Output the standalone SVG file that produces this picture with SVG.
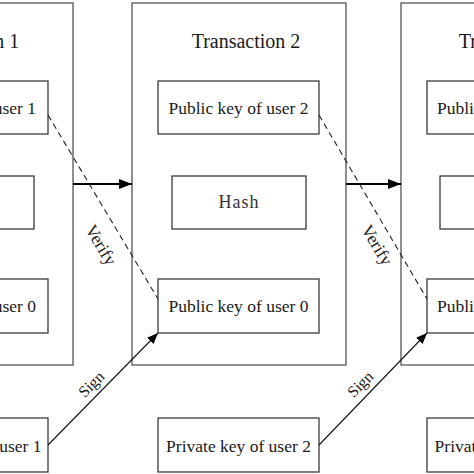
<svg xmlns="http://www.w3.org/2000/svg" width="474" height="474" viewBox="0 0 474 474">
<style>
.box{fill:#fff;stroke:#3a3a3a;stroke-width:1.3}
.outer{fill:#fff;stroke:#555;stroke-width:1.3}
.t{font-family:"Liberation Serif","Times New Roman",serif;font-size:17.5px;fill:#1a1a1a;text-anchor:middle}
.title{font-family:"Liberation Serif","Times New Roman",serif;font-size:20px;fill:#1a1a1a;text-anchor:middle}
.hash{font-family:"Liberation Serif","Times New Roman",serif;font-size:18px;fill:#333;text-anchor:middle;letter-spacing:1px}
.lab{font-family:"Liberation Serif","Times New Roman",serif;font-size:16px;fill:#1a1a1a;text-anchor:middle}
.dash{stroke:#222;stroke-width:1.1;stroke-dasharray:6,4;fill:none}
.thick{stroke:#000;stroke-width:2.2;fill:none}
.thin{stroke:#111;stroke-width:1.1;fill:none}
</style>
<defs>
<marker id="big" markerUnits="userSpaceOnUse" markerWidth="13" markerHeight="10" refX="13" refY="5" orient="auto"><path d="M0,0 L13,5 L0,10 Z" fill="#000"/></marker>
<marker id="small" markerUnits="userSpaceOnUse" markerWidth="11" markerHeight="9" refX="11" refY="4.5" orient="auto"><path d="M0,0 L11,4.5 L0,9 Z" fill="#000"/></marker>
</defs>
<rect width="474" height="474" fill="#fff"/>
<g id="tx1">
<rect class="outer" x="-141" y="3" width="214" height="362"/>
<text class="title" x="-35" y="48">Transaction 1</text>
<rect class="box" x="-113" y="81" width="161" height="53"/>
<text class="t" x="-34" y="114">Public key of user 1</text>
<rect class="box" x="-100" y="176" width="134" height="53"/>
<rect class="box" x="-113" y="279" width="161" height="54"/>
<text class="t" x="-34" y="312">Public key of user 0</text>
</g>
<g id="priv1">
<rect class="box" x="-113" y="418" width="161" height="54"/>
<text class="t" x="-31" y="452">Private key of user 1</text>
</g>
<g id="tx2">
<rect class="outer" x="132" y="3" width="214" height="362"/>
<text class="title" x="246" y="48">Transaction 2</text>
<rect class="box" x="158" y="81" width="161" height="53"/>
<text class="t" x="238.5" y="114">Public key of user 2</text>
<rect class="box" x="172" y="176" width="134" height="53"/>
<text class="hash" x="239" y="208">Hash</text>
<rect class="box" x="158" y="279" width="161" height="54"/>
<text class="t" x="238.5" y="312">Public key of user 0</text>
</g>
<g id="priv2">
<rect class="box" x="158" y="418" width="161" height="54"/>
<text class="t" x="238.5" y="452">Private key of user 2</text>
</g>
<g id="tx3">
<rect class="outer" x="401" y="3" width="214" height="362"/>
<text class="title" x="513" y="48">Transaction 3</text>
<rect class="box" x="427" y="81" width="161" height="53"/>
<text class="t" x="507" y="114">Public key of user 3</text>
<rect class="box" x="440" y="176" width="134" height="53"/>
<rect class="box" x="427" y="279" width="161" height="54"/>
<text class="t" x="507" y="312">Public key of user 2</text>
</g>
<g id="priv3">
<rect class="box" x="427" y="418" width="161" height="54"/>
<text class="t" x="507" y="452">Private key of user 3</text>
</g>
<g id="connectors">
<line class="thick" x1="73" y1="184" x2="132" y2="184" marker-end="url(#big)"/>
<line class="thick" x1="346" y1="184" x2="401" y2="184" marker-end="url(#big)"/>
<line class="dash" x1="48" y1="115" x2="158" y2="299"/>
<line class="dash" x1="319" y1="115" x2="427" y2="299"/>
<line class="thin" x1="48" y1="445" x2="158" y2="333" marker-end="url(#small)"/>
<line class="thin" x1="319" y1="445" x2="427" y2="333" marker-end="url(#small)"/>
<text class="lab" style="font-size:17.5px" transform="translate(96,248) rotate(59)">Verify</text>
<text class="lab" style="font-size:17.5px" transform="translate(372,248) rotate(59)">Verify</text>
<text class="lab" transform="translate(95,388) rotate(-45)">Sign</text>
<text class="lab" transform="translate(364,388) rotate(-45)">Sign</text>
</g>
</svg>
